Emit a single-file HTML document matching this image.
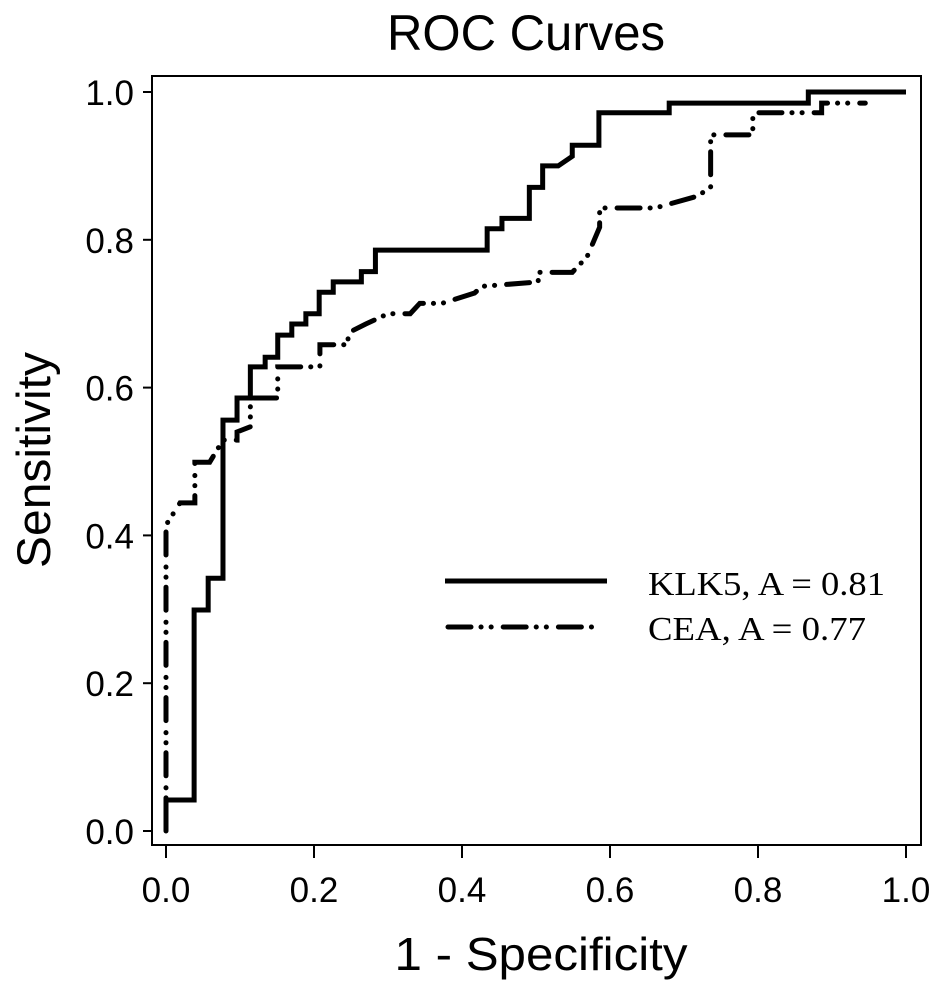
<!DOCTYPE html>
<html><head><meta charset="utf-8"><style>
html,body{margin:0;padding:0;background:#fff;}
svg{display:block;}
</style></head><body>
<svg id="chart" width="945" height="997" viewBox="0 0 945 997" xmlns="http://www.w3.org/2000/svg">
<text x="526" y="50" text-anchor="middle" font-family="Liberation Sans, sans-serif" font-size="50" textLength="278" lengthAdjust="spacingAndGlyphs">ROC Curves</text>
<rect x="152" y="76" width="769" height="769" fill="none" stroke="#000" stroke-width="2"/>
<g id="axes"></g>
<g id="series"></g>
<text x="541" y="970" text-anchor="middle" font-family="Liberation Sans, sans-serif" font-size="46" textLength="293" lengthAdjust="spacingAndGlyphs">1 - Specificity</text>
<text transform="translate(50,460) rotate(-90)" text-anchor="middle" font-family="Liberation Sans, sans-serif" font-size="47" textLength="216" lengthAdjust="spacingAndGlyphs">Sensitivity</text>
<g>
<line x1="445" y1="581" x2="607" y2="581" stroke="#000" stroke-width="5"/>
<text x="648" y="595" font-family="Liberation Serif, serif" font-size="34" textLength="237" lengthAdjust="spacingAndGlyphs">KLK5, A = 0.81</text>
<line x1="448" y1="627" x2="600" y2="627" stroke="#000" stroke-width="5" stroke-linecap="round" stroke-dasharray="23 10 0.1 10 0.1 12"/>
<text x="648" y="640" font-family="Liberation Serif, serif" font-size="34" textLength="218" lengthAdjust="spacingAndGlyphs">CEA, A = 0.77</text>
</g>
</svg>
<script>
const xTicks = [0, 0.2, 0.4, 0.6, 0.8, 1.0];
const yTicks = [0, 0.2, 0.4, 0.6, 0.8, 1.0];
const tickLabels = ["0.0", "0.2", "0.4", "0.6", "0.8", "1.0"];
const klk5Fpr = [0,0,0.038,0.038,0.057,0.057,0.077,0.077,0.096,0.096,0.114,0.114,0.134,0.134,0.151,0.151,0.170,0.170,0.189,0.189,0.207,0.207,0.226,0.226,0.264,0.264,0.283,0.283,0.434,0.434,0.454,0.454,0.491,0.491,0.509,0.509,0.530,0.549,0.549,0.585,0.585,0.680,0.680,0.868,0.868,1];
const klk5Tpr = [0,0.042,0.042,0.299,0.299,0.342,0.342,0.556,0.556,0.586,0.586,0.628,0.628,0.641,0.641,0.671,0.671,0.686,0.686,0.700,0.700,0.729,0.729,0.743,0.743,0.757,0.757,0.786,0.786,0.815,0.815,0.829,0.829,0.871,0.871,0.900,0.900,0.913,0.928,0.928,0.972,0.972,0.985,0.985,1,1];
const ceaFpr = [0,0,0.019,0.039,0.039,0.059,0.077,0.096,0.096,0.114,0.114,0.151,0.151,0.208,0.208,0.246,0.246,0.270,0.300,0.330,0.343,0.373,0.417,0.427,0.503,0.503,0.549,0.569,0.586,0.586,0.661,0.718,0.736,0.736,0.793,0.793,0.886,0.886,0.945];
const ceaTpr = [0,0.414,0.444,0.444,0.499,0.499,0.529,0.529,0.540,0.547,0.586,0.586,0.628,0.628,0.658,0.658,0.674,0.686,0.700,0.700,0.714,0.714,0.728,0.737,0.743,0.756,0.756,0.777,0.817,0.843,0.843,0.859,0.871,0.942,0.942,0.972,0.972,0.985,0.985];

const NS = "http://www.w3.org/2000/svg";
function xs(v){ return 166 + v * 740; }
function ys(v){ return 831 - v * 739; }
const axes = document.getElementById('axes');
const series = document.getElementById('series');

xTicks.forEach((t, i) => {
  const l = document.createElementNS(NS, 'line');
  l.setAttribute('x1', xs(t)); l.setAttribute('x2', xs(t));
  l.setAttribute('y1', 845); l.setAttribute('y2', 858);
  l.setAttribute('stroke', '#000'); l.setAttribute('stroke-width', '2');
  
  
  axes.appendChild(l);
  const tx = document.createElementNS(NS, 'text');
  tx.setAttribute('x', xs(t)); tx.setAttribute('y', 902);
  tx.setAttribute('text-anchor', 'middle');
  tx.setAttribute('font-family', 'Liberation Sans, sans-serif');
  tx.setAttribute('font-size', '35');
  tx.textContent = tickLabels[i];
  
  
  axes.appendChild(tx);
});
yTicks.forEach((t, i) => {
  const l = document.createElementNS(NS, 'line');
  l.setAttribute('x1', 143); l.setAttribute('x2', 152);
  l.setAttribute('y1', ys(t)); l.setAttribute('y2', ys(t));
  l.setAttribute('stroke', '#000'); l.setAttribute('stroke-width', '2');
  
  
  axes.appendChild(l);
  const tx = document.createElementNS(NS, 'text');
  tx.setAttribute('x', 134); tx.setAttribute('y', ys(t) + 13);
  tx.setAttribute('text-anchor', 'end');
  tx.setAttribute('font-family', 'Liberation Sans, sans-serif');
  tx.setAttribute('font-size', '35');
  tx.textContent = tickLabels[i];
  
  
  axes.appendChild(tx);
});

function drawLine(fx, ty, dash, name){
  const p = document.createElementNS(NS, 'polyline');
  p.setAttribute('points', fx.map((v, i) => xs(v) + ',' + ys(ty[i])).join(' '));
  p.setAttribute('fill', 'none');
  p.setAttribute('stroke', '#000');
  p.setAttribute('stroke-width', '5');
  if (dash) { p.setAttribute('stroke-dasharray', dash); p.setAttribute('stroke-linecap', 'round'); }
  
  
  series.appendChild(p);
}
drawLine(klk5Fpr, klk5Tpr, null, 'klk5-roc-line');
drawLine(ceaFpr, ceaTpr, '23 10 0.1 10 0.1 12', 'cea-roc-line');
</script>
</body></html>
